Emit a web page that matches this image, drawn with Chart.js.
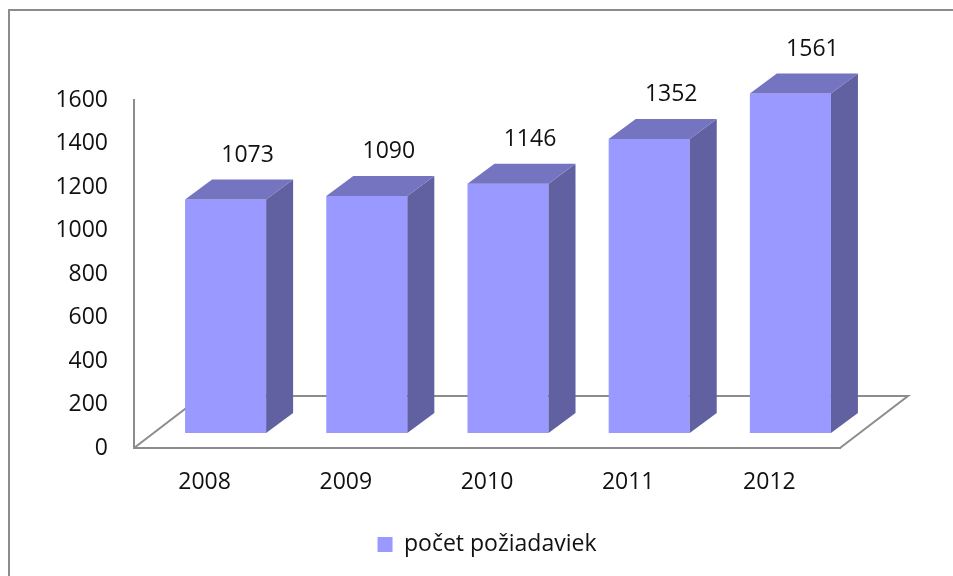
<!DOCTYPE html>
<html>
<head>
<meta charset="utf-8">
<script src="https://cdn.jsdelivr.net/npm/chart.js@4"></script>
<style>
  html, body { margin: 0; padding: 0; background: #fff; }
  #wrap { position: relative; width: 953px; height: 576px; overflow: hidden; }
  #frame { position: absolute; left: 8px; top: 9px; right: -4px; bottom: -4px;
           border-left: 2px solid #8c8c8c; border-top: 2px solid #8c8c8c; pointer-events: none; }
</style>
</head>
<body>
<div id="wrap">
  <canvas id="chart" width="953" height="576"></canvas>
  <div id="frame"></div>
</div>
<script>
// data
const years = ['2008', '2009', '2010', '2011', '2012'];
const requests = [1073, 1090, 1146, 1352, 1561];
const seriesName = 'počet požiadaviek';
const yMin = 0;
const yMax = 1600;
const yStep = 200;

// look of the fake 3d
const FRONT = '#9999ff';
const TOP = '#7474c0';
const SIDE = '#6161a1';
const LINE = '#8c8c8c';
const TEXT = '#111';
const FONT = '"Open Sans", "Noto Sans", sans-serif';
const SIZE = 23;

const FLOOR_X = 68, FLOOR_Y = -52;   // floor depth
const SHIFT_X = 21, SHIFT_Y = -15;   // where the bar fronts sit on the floor
const DEPTH_X = 27, DEPTH_Y = -20;   // bar depth

const bars3d = {
  id: 'bars3d',
  beforeDatasetsDraw(chart) {
    const {ctx, chartArea: a} = chart;
    ctx.save();
    ctx.strokeStyle = LINE;
    ctx.lineWidth = 2;
    ctx.beginPath();
    ctx.moveTo(a.left, a.bottom);
    ctx.lineTo(a.left + FLOOR_X, a.bottom + FLOOR_Y);
    ctx.lineTo(a.right + FLOOR_X, a.bottom + FLOOR_Y);
    ctx.lineTo(a.right, a.bottom);
    ctx.stroke();
    ctx.restore();
  },
  beforeDatasetDraw(chart) {
    chart.ctx.save();
    chart.ctx.translate(SHIFT_X, SHIFT_Y);
  },
  afterDatasetDraw(chart, args) {
    const ctx = chart.ctx;
    const values = chart.data.datasets[args.index].data;
    args.meta.data.forEach((bar, i) => {
      const {x, y, base, width} = bar.getProps(['x', 'y', 'base', 'width'], true);
      const l = x - width / 2, r = x + width / 2;

      ctx.fillStyle = SIDE;
      ctx.beginPath();
      ctx.moveTo(r, y);
      ctx.lineTo(r + DEPTH_X, y + DEPTH_Y);
      ctx.lineTo(r + DEPTH_X, base + DEPTH_Y);
      ctx.lineTo(r, base);
      ctx.closePath();
      ctx.fill();

      ctx.fillStyle = TOP;
      ctx.beginPath();
      ctx.moveTo(l, y);
      ctx.lineTo(l + DEPTH_X, y + DEPTH_Y);
      ctx.lineTo(r + DEPTH_X, y + DEPTH_Y);
      ctx.lineTo(r, y);
      ctx.closePath();
      ctx.fill();

      ctx.fillStyle = TEXT;
      ctx.font = SIZE + 'px ' + FONT;
      ctx.textAlign = 'center';
      ctx.textBaseline = 'middle';
      ctx.fillText(String(values[i]), x + 22, y + DEPTH_Y - 24);
    });
    ctx.restore();
  }
};

new Chart(document.getElementById('chart'), {
  type: 'bar',
  data: {
    labels: years,
    datasets: [{
      label: seriesName,
      data: requests,
      backgroundColor: FRONT,
      borderWidth: 0,
      barPercentage: 0.574,
      categoryPercentage: 1
    }]
  },
  options: {
    responsive: false,
    animation: false,
    layout: { padding: { left: 0, right: 113, top: 100, bottom: 10 } },
    scales: {
      x: {
        grid: { display: false, drawTicks: false },
        border: { display: true, color: LINE, width: 2 },
        ticks: { color: TEXT, font: { family: FONT, size: SIZE }, padding: 21 },
        afterFit(scale) { scale.height = 75; }
      },
      y: {
        min: yMin,
        max: yMax,
        grid: { display: false, drawTicks: false },
        border: { display: true, color: LINE, width: 2 },
        ticks: {
          stepSize: yStep,
          color: TEXT,
          font: { family: FONT, size: SIZE },
          padding: 26,
          callback: v => String(v)
        },
        afterFit(scale) { scale.width = 134; }
      }
    },
    plugins: {
      legend: {
        position: 'bottom',
        fullSize: false,
        labels: {
          boxWidth: 15,
          boxHeight: 15,
          padding: 10,
          color: TEXT,
          font: { family: FONT, size: SIZE }
        }
      },
      tooltip: { enabled: false }
    }
  },
  plugins: [bars3d]
});
</script>
</body>
</html>
